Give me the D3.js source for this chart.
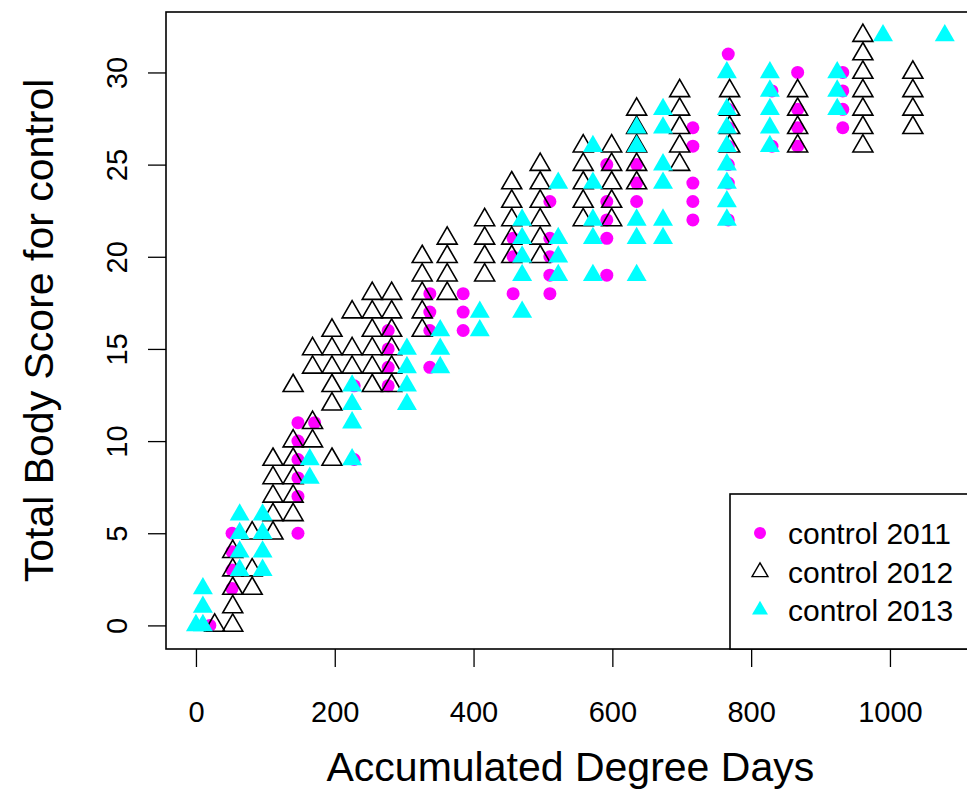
<!DOCTYPE html>
<html><head><meta charset="utf-8">
<script src="https://cdn.jsdelivr.net/npm/d3@7/dist/d3.min.js"></script>
<style>
body{margin:0;background:#fff}
svg{display:block}
text{font-family:"Liberation Sans", Arial, Helvetica, sans-serif;fill:#000}
</style>
</head><body>
<svg id="chart" width="967" height="803"></svg>
<script>
// ---- data ----
const xTicks = [0, 200, 400, 600, 800, 1000];
const yTicks = [0, 5, 10, 15, 20, 25, 30];
const xTitle = "Accumulated Degree Days";
const yTitle = "Total Body Score for control";
const seriesNames = ["control 2011", "control 2012", "control 2013"];
const seriesColors = ["#ff00ff", "#000000", "#00ffff"];

// control 2011: accumulated degree days and the scores observed on that day
const add2011 = [20, 52, 147, 171, 228, 277, 337, 385, 457, 510, 592, 635, 716, 767, 830, 867, 932];
const score2011 = [[0], [2,3,4,5], [5,7,8,9,10,11], [11], [9,13], [13,14,15,16], [14,16,17,18], [16,17,18],
  [18,20,21], [18,19,20,21,23], [19,21,22,23,25], [23,24,25], [22,23,24,26,27], [22,24,25,26,27,28,31],
  [26,29], [26,27,28,30], [27,28,29,30]];

// control 2012
const add2012 = [27, 53, 81, 111, 140, 168, 196, 225, 254, 282, 326, 362, 416, 455, 496, 558, 599, 635, 697, 769, 867, 961, 1033];
const score2012 = [[0], [0,1,2,3,4], [2,3,5], [5,6,7,8,9], [6,7,8,9,10,13], [10,11,14,15], [9,12,13,14,15,16],
  [14,15,17], [13,14,15,16,17,18], [13,14,15,16,17,18], [16,17,18,19,20], [18,19,20,21], [19,20,21,22],
  [20,21,22,23,24], [20,21,22,23,24,25], [22,23,24,25,26], [22,23,24,25,26], [24,25,26,27,28],
  [25,26,27,28,29], [26,27,28,29], [26,27,28,29], [26,27,28,29,30,31,32], [27,28,29,30]];

// control 2013
const add2013 = [0, 10, 63, 96, 164, 225, 304, 352, 409, 470, 522, 572, 635, 673, 765, 827, 924, 990, 1079];
const score2013 = [[0], [0,1,2], [3,4,5,6], [3,4,5,6], [8,9], [9,11,12,13], [12,13,14,15], [14,15,16], [16,17],
  [17,19,20,21,22], [19,20,21,24], [19,21,22,24,26], [19,21,22,26,27], [21,22,24,25,27,28],
  [22,23,24,25,26,27,28,30], [26,27,28,29,30], [28,29,30], [32], [32]];

// ---- build points ----
function flatten(adds, scores, s) {
  const out = [];
  adds.forEach((a, i) => scores[i].forEach(v => out.push({x: a, y: v, s})));
  return out;
}
const pts = [
  flatten(add2011, score2011, 0),
  flatten(add2012, score2012, 1),
  flatten(add2013, score2013, 2)
];
const all = pts.flat();

// ---- layout ----
const svg = d3.select("#chart");
const plotLeft = 166, plotTop = 12, plotBottom = 649;
const xmaxData = d3.max(all, d => d.x), xminData = d3.min(all, d => d.x);
const ymaxData = d3.max(all, d => d.y), yminData = d3.min(all, d => d.y);
const xPad = (xmaxData - xminData) * 0.04, yPad = (ymaxData - yminData) * 0.04;
const pxPerUnit = 0.694;
const x = d3.scaleLinear().domain([xminData - xPad, xmaxData + xPad])
  .range([plotLeft, plotLeft + (xmaxData - xminData + 2 * xPad) * pxPerUnit]);
const y = d3.scaleLinear().domain([yminData - yPad, ymaxData + yPad]).range([plotBottom, plotTop]);
const plotRight = x.range()[1];

// axes
const xAxis = svg.append("g").attr("transform", `translate(0,${plotBottom})`)
  .call(d3.axisBottom(x).tickValues(xTicks).tickSize(18).tickFormat(d3.format("d")));
xAxis.select(".domain").remove();
xAxis.selectAll("line").attr("stroke", "#000").attr("stroke-width", 1.3);
xAxis.selectAll("text").attr("y", 73).attr("dy", null)
  .style("font-size", "29px").attr("fill", "#000");

const yAxis = svg.append("g").attr("transform", `translate(${plotLeft},0)`)
  .call(d3.axisLeft(y).tickValues(yTicks).tickSize(18).tickFormat(d3.format("d")));
yAxis.select(".domain").remove();
yAxis.selectAll("line").attr("stroke", "#000").attr("stroke-width", 1.3);
yAxis.selectAll("text").attr("x", null).attr("dy", null)
  .attr("transform", "translate(-39,0) rotate(-90)")
  .attr("text-anchor", "middle").style("font-size", "29px").attr("fill", "#000");

// titles
svg.append("text").attr("x", (plotLeft + plotRight) / 2).attr("y", 781)
  .attr("text-anchor", "middle").style("font-size", "41px").text(xTitle);
svg.append("text").attr("transform", `translate(53,${(plotTop + plotBottom) / 2}) rotate(-90)`)
  .attr("text-anchor", "middle").style("font-size", "41px").text(yTitle);

// points
const triSize = 173, circSize = 133;
const g = svg.append("g");
g.selectAll("circle.s0").data(pts[0]).join("circle").attr("class", "s0")
  .attr("cx", d => x(d.x)).attr("cy", d => y(d.y)).attr("r", Math.sqrt(circSize / Math.PI))
  .attr("fill", seriesColors[0]);
g.selectAll("path.s1").data(pts[1]).join("path").attr("class", "s1")
  .attr("d", d3.symbol(d3.symbolTriangle, triSize))
  .attr("transform", d => `translate(${x(d.x)},${y(d.y)})`)
  .attr("fill", "none").attr("stroke", seriesColors[1]).attr("stroke-width", 1.6);
g.selectAll("path.s2").data(pts[2]).join("path").attr("class", "s2")
  .attr("d", d3.symbol(d3.symbolTriangle, triSize))
  .attr("transform", d => `translate(${x(d.x)},${y(d.y)})`)
  .attr("fill", seriesColors[2]);

// plot box
svg.append("rect").attr("x", plotLeft).attr("y", plotTop)
  .attr("width", plotRight - plotLeft).attr("height", plotBottom - plotTop)
  .attr("fill", "none").attr("stroke", "#000").attr("stroke-width", 1.6);

// legend
const lg = svg.append("g");
lg.append("rect").attr("x", 730).attr("y", 494).attr("width", 300).attr("height", plotBottom - 494)
  .attr("fill", "#fff").attr("stroke", "#000").attr("stroke-width", 1.6);
const rowY = [533, 572, 610];
seriesNames.forEach((name, i) => {
  if (i === 0) {
    lg.append("circle").attr("cx", 760).attr("cy", rowY[i]).attr("r", 6).attr("fill", seriesColors[0]);
  } else {
    const p = lg.append("path").attr("d", d3.symbol(d3.symbolTriangle, 110))
      .attr("transform", `translate(760,${rowY[i]})`);
    if (i === 1) p.attr("fill", "none").attr("stroke", "#000").attr("stroke-width", 1.4);
    else p.attr("fill", seriesColors[2]);
  }
  lg.append("text").attr("x", 788).attr("y", rowY[i]).attr("dy", "0.36em")
    .style("font-size", "30px").text(name);
});
</script>
</body></html>
